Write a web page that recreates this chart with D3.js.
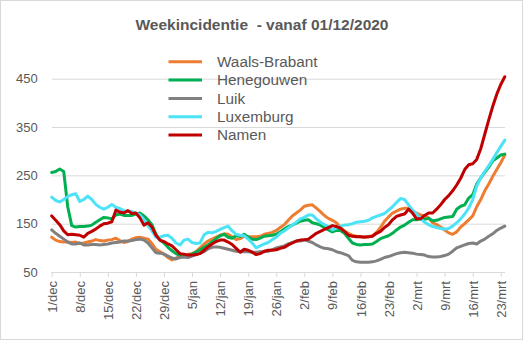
<!DOCTYPE html>
<html><head><meta charset="utf-8">
<script src="https://cdn.jsdelivr.net/npm/d3@7"></script>
<style>html,body{margin:0;padding:0;background:#fff}svg{display:block}text{white-space:pre}</style>
</head><body>
<svg id="c" width="523" height="340"></svg>
<script>
const title = "Weekincidentie  - vanaf 01/12/2020";
const seriesNames = ["Waals-Brabant","Henegouwen","Luik","Luxemburg","Namen"];
const seriesColors = ["#ED7D31","#00B050","#808080","#4DE3F7","#C00000"];
const tickLabels = ["1/dec","8/dec","15/dec","22/dec","29/dec","5/jan","12/jan","19/jan","26/jan","2/feb","9/feb","16/feb","23/feb","2/mrt","9/mrt","16/mrt","23/mrt"];
const yTicks = [50,150,250,350,450];

const waalsBrabant = [122,116,113,112,112,111,112,109,110,112,114,117,115,114,116,117,120,115,111,113,118,121,122,120,118,109,97,92,87,80,75,79,82,85,87,88,92,100,108,114,118,122,126,129,128,123,117,119,124,123,123,123,124,128,130,132,136,142,148,157,166,172,178,186,188,189,182,175,167,161,157,152,142,135,130,126,124,123,123,123,125,132,142,155,164,172,176,180,182,182,176,172,168,166,162,152,148,143,137,131,128,133,143,150,158,166,185,200,218,232,248,262,276,292];
const henegouwen = [256,258,263,258,185,146,143,144,144,145,147,153,158,163,162,160,168,170,167,167,167,170,172,166,158,148,128,116,110,101,94,88,84,84,84,87,91,96,101,106,112,119,125,128,122,120,125,124,128,122,118,117,120,124,125,126,128,133,139,144,147,151,155,157,158,152,150,147,142,137,133,136,136,130,120,110,107,106,107,107,108,113,119,122,125,130,137,143,147,153,158,158,160,159,161,156,157,160,163,164,165,180,186,189,203,210,232,245,256,267,280,286,292,294];
const luik = [137,130,124,118,112,108,108,110,106,106,107,107,106,107,108,110,111,112,114,114,115,117,118,116,110,100,90,89,87,83,79,77,80,81,80,83,86,89,92,98,101,102,101,99,97,95,93,92,92,92,91,91,92,92,93,96,100,102,104,108,111,114,114,116,114,111,106,102,99,98,96,92,90,87,84,74,71,70,70,70,71,73,76,80,82,85,88,90,91,90,89,87,86,85,82,81,81,82,84,87,93,100,103,106,109,110,108,114,118,124,129,136,141,145];
const luxemburg = [205,198,195,200,206,210,212,196,200,207,200,190,184,180,184,190,184,181,177,175,175,172,168,158,146,135,122,122,125,126,120,110,106,116,118,111,109,110,127,132,131,134,138,142,145,135,128,126,125,118,110,100,104,108,111,117,122,130,135,141,147,153,160,163,168,168,160,153,148,144,137,141,145,147,148,150,153,154,155,157,162,165,168,171,178,185,194,202,200,189,178,170,160,153,148,144,142,140,139,140,145,152,160,170,182,200,228,245,258,270,283,297,310,323];
const namen = [166,157,148,135,127,128,127,126,122,130,134,139,145,150,151,154,178,174,172,177,171,172,162,147,152,143,126,116,113,108,104,96,88,87,85,85,86,88,95,102,108,113,116,116,112,107,99,91,97,95,91,86,88,93,95,95,96,99,101,106,110,114,116,117,118,124,130,134,138,142,146,144,141,134,126,124,123,123,122,123,124,130,134,142,148,158,165,168,170,180,172,160,160,167,172,172,180,189,200,208,218,230,244,262,272,274,283,305,335,365,393,418,438,454];

const seriesValues = [waalsBrabant, henegouwen, luik, luxemburg, namen];

const svg = d3.select("#c");
const textColor = "#595959";
const font = "'Liberation Sans', Arial, sans-serif";

svg.append("rect").attr("x",0.5).attr("y",0.5).attr("width",522).attr("height",339)
  .attr("fill","#fff").attr("stroke","#d9d9d9");

const plotL = 51.7, plotR = 504.8, plotT = 78.7, plotB = 272;
const x = d3.scaleLinear().domain([0, 113]).range([plotL, plotR]);
const y = d3.scaleLinear().domain([50, 450]).range([plotB, plotT]);

// title
svg.append("text").attr("x", 262).attr("y", 29.5).attr("text-anchor","middle")
  .attr("font-family", font).attr("font-weight","bold").attr("font-size", 15.5)
  .attr("fill", textColor).attr("xml:space","preserve").text(title);

// gridlines + y axis labels
const yAxis = d3.axisLeft(y).tickValues(yTicks).tickSize(-(505 - plotL)).tickPadding(14);
const gy = svg.append("g").attr("transform", `translate(${plotL},0)`).call(yAxis);
gy.select(".domain").remove();
gy.selectAll(".tick line").attr("stroke","#d9d9d9").attr("stroke-width",1);
gy.selectAll(".tick text").attr("font-family", font).attr("font-size", 13).attr("fill", textColor);

// x axis
const tickIdx = tickLabels.map((_, i) => i * 7);
const xAxis = d3.axisBottom(x).tickValues(tickIdx).tickFormat((d, i) => tickLabels[i]).tickSize(5).tickSizeOuter(0);
const gx = svg.append("g").attr("transform", `translate(0,${plotB})`).call(xAxis);
gx.select(".domain").attr("stroke","#d9d9d9").attr("d", `M${plotL},0.5H505`);
gx.selectAll(".tick line").attr("stroke","#d9d9d9");
gx.selectAll(".tick text").attr("font-family", font).attr("font-size", 13).attr("fill", textColor)
  .attr("transform","rotate(-90)").attr("text-anchor","end").attr("dy","0.35em").attr("x",-9).attr("y",0);

// lines
const line = d3.line().x((d, i) => x(i)).y(d => y(d));
seriesValues.forEach((vals, k) => {
  svg.append("path").datum(vals).attr("d", line).attr("fill","none")
    .attr("stroke", seriesColors[k]).attr("stroke-width", 3)
    .attr("stroke-linejoin","round").attr("stroke-linecap","round");
});

// legend
const lg = svg.append("g");
seriesNames.forEach((n, k) => {
  const yy = 61.7 + k * 18.35;
  lg.append("line").attr("x1",168.5).attr("x2",202).attr("y1",yy).attr("y2",yy)
    .attr("stroke", seriesColors[k]).attr("stroke-width",3);
  lg.append("text").attr("x",217).attr("y",yy).attr("dy","0.35em")
    .attr("font-family", font).attr("font-size", 15.3).attr("fill", textColor).text(n);
});
</script>
</body></html>
